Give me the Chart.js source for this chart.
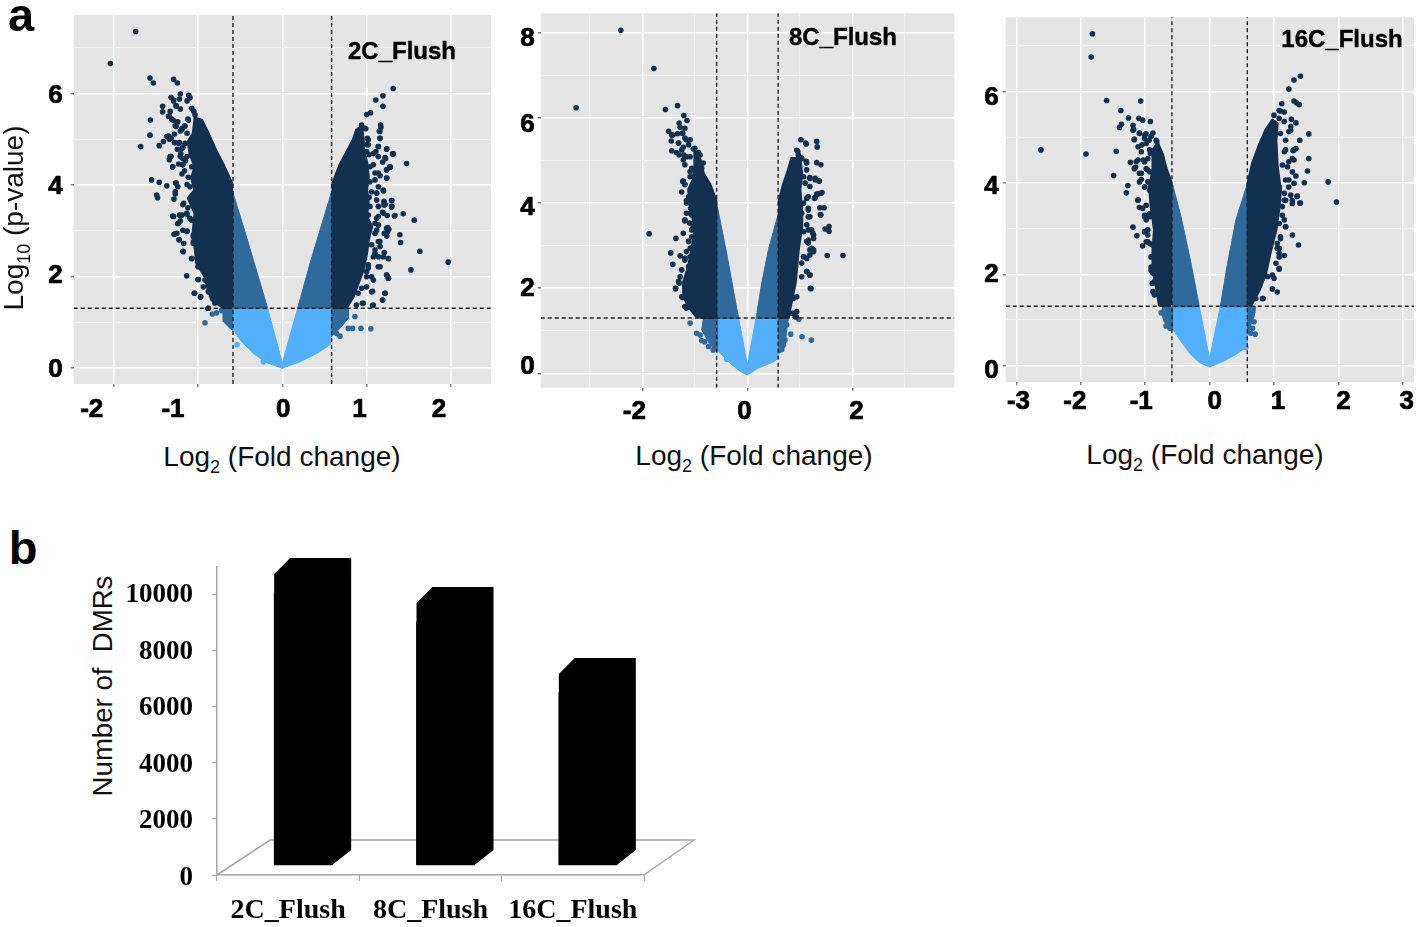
<!DOCTYPE html>
<html>
<head>
<meta charset="utf-8">
<title>DMR volcano plots</title>
<script src="https://cdn.jsdelivr.net/npm/chart.js@4"></script>
<style>
  html, body { margin: 0; background: #fff; overflow: hidden; }
  body { position: relative; width: 1418px; height: 927px; font-family: "Liberation Sans", Arial, sans-serif; color: #000; }
  canvas { position: absolute; z-index: 1; }
  .txt { position: absolute; z-index: 2; transform: translate(-50%, -50%); white-space: nowrap; line-height: 1; }
  .title { font-size: 28px; color: #111; }
  .title sub { font-size: 18px; line-height: 0; }
  .rot { transform: translate(-50%, -50%) rotate(-90deg); }
  .tag { font-size: 24px; font-weight: bold; -webkit-text-stroke: 0.4px #000; }
  .letter { font-size: 47px; font-weight: bold; }
</style>
</head>
<body>
<div class="txt letter" style="left:21px;top:14px">a</div>
<div class="txt letter" style="left:23px;top:547px">b</div>
<div class="txt title rot" style="left:14px;top:218px">Log<sub>10</sub> (p-value)</div>
<div class="txt title" style="left:282px;top:457px">Log<sub>2</sub> (Fold change)</div>
<div class="txt title" style="left:754px;top:456px">Log<sub>2</sub> (Fold change)</div>
<div class="txt title" style="left:1205px;top:455px">Log<sub>2</sub> (Fold change)</div>
<div class="txt title rot" style="left:103px;top:686px;font-size:27.6px">Number of&nbsp; DMRs</div>
<div class="txt tag" style="left:402px;top:51px">2C_Flush</div>
<div class="txt tag" style="left:843px;top:37px">8C_Flush</div>
<div class="txt tag" style="left:1342px;top:39px">16C_Flush</div>
<canvas id="volcano2C" width="470" height="425" style="left:30px;top:5px"></canvas>
<canvas id="volcano8C" width="450" height="425" style="left:510px;top:3px"></canvas>
<canvas id="volcano16C" width="448" height="425" style="left:970px;top:7px"></canvas>
<canvas id="barDMR" width="590" height="382" style="left:120px;top:545px"></canvas>
<script>
// Data: thresholds
const foldCut = [-0.585, 0.585];
const pCut = 1.3;

// Data: 2C_Flush
const ticksX2C = [-2, -1, 0, 1, 2];
const ticksY2C = [0, 1, 2, 3, 4, 5, 6, 7];
const coreLeft2C = [[-.60,1.32],[-.60,4.04],[-.70,4.44],[-.80,4.80],[-.897,5.20],[-.957,5.42],[-1.036,5.46],[-1.056,5.13],[-1.115,4.95],[-1.095,4.69],[-1.036,4.40],[-1.076,4.15],[-1.036,3.89],[-1.115,3.71],[-1.036,3.38],[-1.056,3.01],[-1.036,2.65],[-1.016,2.29],[-.917,1.99],[-.877,1.70],[-.837,1.48],[-.70,1.32],[-.60,1.32]];
const coreRight2C = [[.60,1.32],[.60,4.04],[.684,4.44],[.80,4.84],[.842,4.99],[.88,5.20],[.94,5.28],[.96,4.99],[.96,4.80],[1.0,4.51],[1.02,4.18],[1.0,3.89],[1.02,3.67],[1.0,3.31],[1.06,3.09],[1.02,2.80],[1.0,2.50],[.96,2.14],[.90,1.85],[.84,1.55],[.76,1.32],[.60,1.32]];
const midLeft2C = [[-.589,3.85],[-.462,3.09],[-.344,2.36],[-.174,1.30],[-.589,1.30],[-.589,3.85]];
const midRight2C = [[.585,3.85],[.447,3.01],[.328,2.28],[.182,1.30],[.585,1.30],[.585,3.85]];
const midLowLeft2C = [[-.589,1.30],[-.70,1.30],[-.70,1.01],[-.62,.86],[-.589,.82],[-.589,1.30]];
const midLowRight2C = [[.585,1.30],[.783,1.30],[.783,1.08],[.684,.86],[.605,.72],[.585,.68],[.585,1.30]];
const lightLeft2C = [[-.174,1.30],[0,.1],[0,-.01],[-.186,.11],[-.344,.31],[-.502,.61],[-.589,.86],[-.589,1.30],[-.174,1.30]];
const lightRight2C = [[.182,1.30],[0,.1],[0,-.01],[.209,.13],[.407,.31],[.565,.50],[.585,.68],[.585,1.30],[.182,1.30]];
const darkDots2C = [[-1.74,7.36],[-2.04,6.66],[-1.57,6.34],[-1.53,6.23],[-1.29,6.31],[-1.245,6.23],[-1.32,5.92],[-1.21,5.99],[-1.11,5.96],[-1.095,5.91],[-1.29,5.86],[-1.42,5.72],[-1.42,5.60],[-1.33,5.61],[-1.26,5.73],[-1.21,5.66],[-1.075,5.68],[-1.05,5.61],[-1.565,5.42],[-1.35,5.50],[-1.29,5.41],[-1.26,5.28],[-1.19,5.24],[-1.155,5.29],[-1.115,5.42],[-1.57,5.09],[-1.37,5.06],[-1.34,5.0],[-1.41,4.95],[-1.46,4.86],[-1.68,4.84],[-1.27,4.93],[-1.23,4.91],[-1.19,4.80],[-1.155,4.91],[-1.21,4.62],[-1.33,4.62],[-1.30,4.40],[-1.185,4.44],[-1.13,4.62],[-1.075,4.40],[-1.55,4.11],[-1.46,4.06],[-1.37,3.98],[-1.49,3.78],[-1.48,3.72],[-1.265,4.04],[-1.27,3.85],[-1.285,3.69],[-1.17,3.60],[-1.135,3.38],[-1.29,3.31],[-1.21,3.32],[-1.235,3.16],[-1.075,3.23],[-1.18,3.01],[-1.285,2.92],[-1.135,2.98],[-1.225,2.80],[-1.055,2.87],[-1.055,2.76],[-1.175,2.54],[-1.075,2.39],[-.995,2.28],[-1.135,2.01],[-.995,1.93],[-1.045,1.63],[-.97,1.55],[-.877,1.30],[-.937,1.77],
  [1.316,6.11],[1.194,5.95],[1.11,5.86],[1.194,5.72],[1.0,5.54],[1.047,5.58],[.94,5.31],[.98,5.24],[.90,5.17],[.88,5.06],[1.166,5.31],[1.17,5.26],[1.158,5.17],[1.158,5.02],[1.02,4.99],[1.0,4.88],[1.138,4.84],[1.237,4.78],[1.316,4.68],[1.474,4.47],[1.225,4.58],[1.277,4.40],[1.237,4.33],[1.237,4.15],[1.138,4.26],[1.08,4.69],[1.04,4.40],[1.10,4.11],[1.198,3.89],[1.296,3.66],[1.206,3.64],[1.206,3.56],[1.296,3.53],[1.435,3.37],[1.336,3.33],[1.198,3.38],[1.565,3.23],[1.119,3.27],[1.237,3.05],[1.25,2.98],[1.395,2.91],[1.403,2.74],[1.158,2.76],[1.198,2.43],[1.257,2.39],[1.632,2.55],[1.968,2.31],[1.526,2.14],[1.237,2.03],[1.257,1.96],[1.138,2.21],[1.02,2.18],[1.217,1.63],[1.19,1.48],[1.079,1.37],[.96,1.41],[1.06,1.66],[1.10,2.58],[1.119,3.01],[1.08,2.43],[1.0,1.99],[.90,1.63],[1.119,3.67]];
const bandDots2C = [[-1.22,5.88],[-1.29,5.84],[-1.13,5.84],[-1.26,5.74],[-1.035,5.53],[-1.34,5.51],[-1.31,5.44],[-1.24,5.38],[-1.12,5.44],[-1.27,5.30],[-1.16,5.29],[-1.19,5.22],[-1.21,5.18],[-1.35,5.07],[-1.32,5.02],[-1.28,5.11],[-1.13,5.13],[-1.28,4.93],[-1.22,4.93],[-1.245,4.78],[-1.18,4.82],[-1.205,4.69],[-1.32,4.62],[-1.34,4.55],[-1.18,4.58],[-1.15,4.53],[-1.30,4.40],[-1.23,4.46],[-1.18,4.44],[-1.16,4.31],[-1.19,4.24],[-1.115,4.17],[-1.26,4.04],[-1.24,3.96],[-1.13,4.01],[-1.095,3.96],[-1.27,3.80],[-1.18,3.57],[-1.12,3.50],[-1.30,3.32],[-1.22,3.34],[-1.19,3.34],[-1.13,3.36],[-1.21,3.21],[-1.24,3.15],[-1.095,3.27],[-1.13,2.99],[-1.27,2.93],[-1.25,2.94],[-1.055,2.91],[-1.225,2.80],[-1.17,2.72],[-1.055,2.72],[-1.18,2.55],[-1.075,2.39],[-.976,2.28],[-1.0,2.21],[-.937,2.21],[-1.0,1.93],[-.917,1.92],[-1.04,1.63],[-.97,1.55],[-.877,1.66],[-.88,1.30],[-.80,1.41],
  [.99,5.23],[1.15,5.18],[1.01,5.02],[1.16,5.02],[1.02,4.88],[1.14,4.84],[1.24,4.79],[1.0,4.73],[1.11,4.73],[1.31,4.68],[1.22,4.60],[1.03,4.66],[1.14,4.62],[1.19,4.50],[1.28,4.39],[1.08,4.44],[1.24,4.33],[1.10,4.26],[1.16,4.20],[1.24,4.15],[1.04,4.07],[1.14,3.96],[1.20,3.87],[1.06,3.85],[1.12,3.82],[1.03,3.73],[1.30,3.66],[1.21,3.61],[1.22,3.57],[1.30,3.52],[1.04,3.53],[1.14,3.53],[1.19,3.40],[1.245,3.33],[1.33,3.32],[1.02,3.34],[1.14,3.31],[1.10,3.16],[1.14,3.12],[1.25,3.07],[1.265,3.03],[1.21,2.94],[1.24,2.88],[1.10,2.94],[1.14,2.76],[1.06,2.69],[1.16,2.65],[1.10,2.50],[1.21,2.52],[1.14,2.43],[1.26,2.39],[1.02,2.25],[1.16,2.21],[1.24,2.03],[1.26,1.96],[1.06,1.99],[1.08,1.92],[1.0,2.10],[1.07,1.67],[1.22,1.63],[1.19,1.48],[.94,1.74],[1.0,1.77],[.95,1.41],[1.07,1.36],[.88,1.37]];
const midDots2C = [[-.917,.985],[-.83,1.175],[-.78,1.20],[-.72,1.25],[.783,.86],[.834,.86],[.933,.86],[1.05,.85],[.862,1.12],[.684,.69],[.644,.75]];
const lightDots2C = [[-.537,.50],[-.225,.13]];

// Data: 8C_Flush
const ticksX8C = [-3, -2, -1, 0, 1, 2, 3];
const ticksY8C = [0, 1, 2, 3, 4, 5, 6, 7, 8];
const coreLeft8C = [[-.60,1.31],[-.60,4.07],[-.71,4.43],[-.84,4.70],[-.90,5.02],[-1.0,5.21],[-1.0,4.86],[-1.03,4.55],[-1.12,4.31],[-1.06,3.84],[-1.0,3.37],[-1.06,2.90],[-1.12,2.51],[-1.22,2.12],[-1.21,1.80],[-1.12,1.57],[-.965,1.33],[-.86,1.31],[-.60,1.31]];
const coreRight8C = [[.61,1.31],[.61,4.07],[.686,4.43],[.78,4.78],[.844,5.05],[1.0,5.05],[1.035,4.70],[1.0,4.31],[1.035,3.84],[1.035,3.45],[.97,2.90],[.94,2.51],[.91,2.12],[.844,1.72],[.78,1.33],[.76,1.31],[.61,1.31]];
const midLeft8C = [[-.571,3.92],[-.394,2.82],[-.267,1.96],[-.165,1.29],[-.571,1.29],[-.571,3.92]];
const midRight8C = [[.590,3.76],[.40,2.90],[.273,2.12],[.165,1.29],[.590,1.29],[.590,3.76]];
const midLowLeft8C = [[-.571,1.29],[-.838,1.29],[-.870,1.02],[-.743,.74],[-.648,.59],[-.571,.51],[-.571,1.29]];
const midLowRight8C = [[.59,1.29],[.781,1.29],[.749,1.02],[.717,.63],[.654,.51],[.59,.47],[.59,1.29]];
const lightLeft8C = [[-.165,1.29],[0,.2],[0,-.04],[-.159,.06],[-.394,.31],[-.571,.55],[-.571,1.29],[-.165,1.29]];
const lightRight8C = [[.165,1.29],[0,.2],[0,-.04],[.2,.12],[.5,.27],[.59,.35],[.59,1.29],[.165,1.29]];
const darkDots8C = [[-2.41,8.06],[-1.78,7.16],[-3.26,6.24],[-1.56,6.20],[-1.33,6.29],[-1.21,6.06],[-1.15,5.94],[-1.30,5.88],[-1.28,5.78],[-1.50,5.69],[-1.42,5.60],[-1.24,5.64],[-1.45,5.46],[-1.44,5.23],[-1.35,5.19],[-1.25,5.25],[-1.31,5.41],[-1.16,5.49],[-1.12,5.37],[-1.0,5.29],[-.90,5.13],[-1.16,5.09],[-1.22,5.02],[-1.06,4.82],[-.84,4.94],[-1.23,4.51],[-1.19,4.43],[-1.09,4.62],[-1.25,4.26],[-1.12,4.15],[-1.16,4.0],[-1.06,3.84],[-1.19,3.61],[-1.09,3.76],[-1.87,3.28],[-1.36,3.17],[-1.22,3.29],[-1.12,3.10],[-1.06,3.37],[-1.46,2.83],[-1.28,2.76],[-1.09,2.94],[-1.19,2.66],[-1.42,2.56],[-1.25,2.43],[-1.09,2.51],[-1.28,2.27],[-1.365,1.99],[-1.30,2.12],[-1.25,1.80],[-1.16,1.53],
  [1.02,5.49],[1.12,5.39],[1.32,5.45],[1.33,5.32],[.96,5.21],[1.03,5.05],[1.32,4.95],[1.40,4.90],[1.13,4.94],[1.19,4.58],[1.365,4.52],[1.29,4.58],[1.19,4.39],[1.42,4.25],[1.35,4.22],[1.29,4.13],[1.16,4.15],[1.38,3.89],[1.46,3.89],[1.40,3.72],[1.16,3.88],[1.19,3.68],[1.48,3.39],[1.555,3.45],[1.555,3.34],[1.16,3.37],[1.245,3.29],[1.26,3.17],[1.16,3.13],[1.225,2.94],[1.26,2.86],[1.52,2.77],[1.82,2.77],[1.19,2.78],[1.07,2.74],[1.035,2.59],[1.13,2.39],[1.19,2.31],[1.035,2.27],[1.21,1.99],[.94,1.80],[.876,1.41],[.93,1.33]];
const bandDots8C = [[-1.19,5.76],[-1.44,5.60],[-1.33,5.63],[-1.23,5.64],[-1.19,5.53],[-1.09,5.49],[-1.31,5.41],[-1.22,5.31],[-1.30,5.13],[-1.03,5.27],[-.93,5.19],[-1.21,5.13],[-1.09,5.09],[-1.19,4.90],[-.87,4.82],[-1.09,4.74],[-1.03,4.62],[-1.22,4.52],[-1.19,4.45],[-1.03,4.43],[-1.06,4.27],[-1.16,4.06],[-1.09,4.0],[-1.0,4.08],[-1.08,3.88],[-1.16,3.76],[-1.06,3.72],[-1.19,3.58],[-1.10,3.53],[-1.03,3.45],[-1.06,3.21],[-1.16,2.86],[-1.19,2.70],[-1.09,2.74],[-1.03,2.98],[-1.12,2.51],[-1.31,2.16],[-1.23,1.78],[-1.37,2.0],[-1.19,1.57],
  [1.11,5.41],[.94,5.24],[.97,5.13],[1.035,5.05],[1.12,4.98],[1.13,4.78],[1.07,4.62],[1.19,4.60],[1.29,4.55],[1.37,4.52],[1.10,4.47],[1.40,4.23],[1.32,4.21],[1.28,4.11],[1.13,4.11],[1.07,4.0],[1.16,3.84],[1.39,3.73],[1.035,3.76],[1.16,3.68],[1.13,3.49],[1.225,3.37],[1.26,3.25],[1.07,3.33],[1.13,3.10],[1.16,3.06],[1.19,2.90],[1.26,2.90],[1.07,2.74],[1.13,2.70],[1.13,2.39],[1.19,2.31],[1.20,2.0],[.876,1.76],[.94,1.45],[.91,1.33],[.844,1.41]];
const midDots8C = [[-1.09,1.18],[-.965,.94],[-.90,.90],[-.87,.77],[-.81,.74],[-.74,.63],[-.65,.55],[.98,1.27],[.825,.92],[1.04,.86],[1.22,.78],[.75,1.14],[.686,.67],[.717,.78],[.654,.56]];
const lightDots8C = [[-.394,.33]];

// Data: 16C_Flush
const ticksX16C = [-3, -2, -1, 0, 1, 2, 3];
const ticksY16C = [0, 1, 2, 3, 4, 5, 6, 7];
const coreLeft16C = [[-.60,1.32],[-.60,4.02],[-.676,4.31],[-.73,4.61],[-.805,4.86],[-.88,4.72],[-.88,4.28],[-.934,3.91],[-.908,3.48],[-.857,2.97],[-.88,2.53],[-.88,2.09],[-.83,1.73],[-.78,1.32],[-.60,1.32]];
const coreRight16C = [[.60,1.32],[.60,4.02],[.666,4.42],[.77,4.82],[.87,5.15],[.975,5.37],[1.05,5.30],[1.03,4.93],[1.05,4.35],[1.10,3.84],[1.08,3.48],[1.03,2.97],[.95,2.53],[.87,2.02],[.77,1.65],[.64,1.32],[.60,1.32]];
const midLeft16C = [[-.573,3.95],[-.444,3.26],[-.289,2.24],[-.16,1.29],[-.573,1.29],[-.573,3.95]];
const midRight16C = [[.588,3.99],[.408,3.19],[.279,2.24],[.165,1.29],[.588,1.29],[.588,3.99]];
const midLowLeft16C = [[-.573,1.29],[-.728,1.29],[-.753,1.15],[-.70,.96],[-.624,.82],[-.573,.78],[-.573,1.29]];
const midLowRight16C = [[.588,1.29],[.717,1.29],[.691,1.07],[.64,.89],[.614,.71],[.588,.7],[.588,1.29]];
const lightLeft16C = [[-.16,1.29],[0,.15],[0,-.03],[-.16,.07],[-.31,.27],[-.46,.56],[-.573,.8],[-.573,1.29],[-.16,1.29]];
const lightRight16C = [[.165,1.29],[0,.15],[0,-.03],[.22,.1],[.41,.25],[.55,.38],[.588,.4],[.588,1.29],[.165,1.29]];
const darkDots16C = [[-1.82,7.26],[-1.84,6.75],[-2.62,4.72],[-1.92,4.63],[-1.60,5.80],[-1.38,5.58],[-1.07,5.79],[-1.26,5.42],[-1.10,5.41],[-1.04,5.37],[-.92,5.34],[-1.19,5.26],[-1.37,5.28],[-1.40,5.21],[-1.19,5.15],[-1.09,5.08],[-1.17,4.95],[-1.01,5.04],[-.91,5.02],[-.83,4.93],[-1.11,4.79],[-1.45,4.69],[-.985,4.86],[-.93,4.72],[-1.23,4.45],[-1.14,4.46],[-1.03,4.50],[-1.17,4.31],[-1.49,4.16],[-1.06,4.21],[-.96,4.28],[-1.09,4.02],[-1.27,3.94],[-1.295,3.78],[-1.01,3.91],[-1.115,3.62],[-1.09,3.46],[-1.04,3.44],[-1.01,3.26],[-.93,3.33],[-1.19,3.03],[-1.01,2.93],[-1.13,2.84],[-.96,2.86],[-1.04,2.62],[-.89,2.64],[-.96,2.71],[-.91,2.16],[-.89,1.80],[-.88,1.62],[-.857,1.55],[-.88,2.02],
  [1.41,6.33],[1.31,6.25],[1.23,6.05],[1.12,5.73],[1.31,5.79],[1.35,5.75],[1.39,5.71],[1.10,5.57],[1.16,5.55],[1.27,5.39],[1.34,5.31],[1.54,5.07],[1.26,5.15],[1.40,4.93],[1.34,4.75],[1.31,4.72],[1.54,4.53],[1.18,4.72],[1.285,4.53],[1.31,4.50],[1.21,4.35],[1.52,4.26],[1.285,4.24],[1.47,4.0],[1.84,4.02],[1.23,4.06],[1.31,3.99],[1.36,3.71],[1.26,3.73],[1.40,3.56],[1.285,3.62],[1.97,3.58],[1.16,3.62],[1.13,3.48],[1.18,3.04],[1.285,2.86],[1.38,2.64],[1.16,2.41],[1.08,2.38],[1.05,2.57],[1.10,2.78],[1.08,2.13],[1.0,1.91],[.975,1.68],[1.05,1.61],[.82,1.47],[.717,1.47]];
const bandDots16C = [[-1.09,5.09],[-.99,5.07],[-.88,5.09],[-1.18,5.17],[-1.17,4.95],[-1.01,4.97],[-.94,4.93],[-.82,4.90],[-1.05,4.83],[-1.06,4.68],[-.92,4.64],[-.96,4.53],[-1.11,4.50],[-1.01,4.46],[-1.15,4.34],[-.985,4.31],[-1.09,4.21],[-.93,4.24],[-1.06,4.07],[-.96,4.02],[-1.01,3.91],[-.93,3.84],[-1.11,3.63],[-.985,3.51],[-1.01,3.29],[-.985,3.19],[-.93,3.26],[-.96,2.97],[-1.01,2.93],[-.985,2.71],[-.93,2.67],[-.91,2.38],[-.91,2.09],[-.857,1.84],
  [1.0,5.48],[1.08,5.58],[1.08,5.41],[1.16,5.34],[1.26,5.23],[1.23,5.12],[1.10,5.08],[1.18,4.93],[1.16,4.68],[1.295,4.70],[1.23,4.46],[1.13,4.39],[1.34,4.15],[1.18,4.06],[1.08,3.91],[1.23,3.91],[1.16,3.77],[1.36,3.70],[1.18,3.62],[1.41,3.56],[1.285,3.55],[1.13,3.29],[1.16,3.19],[1.18,3.04],[1.08,3.11],[1.10,2.82],[1.05,2.67],[1.08,2.57],[1.08,2.46],[1.03,2.24],[1.08,2.11],[.975,1.98],[.90,1.95],[.83,1.47]];
const midDots16C = [[-.753,1.16],[-.676,1.0],[-.676,.87],[-.614,.82],[.69,.96],[.666,.82],[.707,.69],[.64,.71],[.666,1.18]];
const lightDots16C = [[.562,.40]];

// Data: number of DMRs
const stages = ['2C_Flush', '8C_Flush', '16C_Flush'];
const dmrCounts = [10040, 9000, 6480];
const dmrTicks = [0, 2000, 4000, 6000, 8000, 10000];

const COLORS = { dark: '#12304f', mid: '#2f6a9c', light: '#52affc', panel: '#e5e5e5', major: '#ffffff', minor: '#f0f0f0', tick: '#7f7f7f', dash: '#222222', floor: '#a6a6a6' };
const TICK_FONT = { family: '"Liberation Sans", Arial, sans-serif', size: 26, weight: 'bold' };

const toPoints = pairs => pairs.map(([x, y]) => ({ x, y }));

function polygon(pairs, color, border) {
    return { data: toPoints(pairs), showLine: true, fill: 'shape', backgroundColor: color, borderColor: color, borderWidth: border || 1, borderJoinStyle: 'round', pointRadius: 0, tension: 0 };
}

function dots(pairs, color) {
    return { data: toPoints(pairs), showLine: false, backgroundColor: color, borderColor: color, borderWidth: 0, pointRadius: 2.8 };
}

function dashed(pairs) {
    return { data: toPoints(pairs), showLine: true, fill: false, borderColor: COLORS.dash, borderWidth: 1.4, borderDash: [4, 3], pointRadius: 0 };
}

// Shifts tick labels after the scale has laid them out, the figure has them hand placed
const labelNudge = {
    id: 'labelNudge',
    afterLayout(chart, args, opts) {
        for (const axis of ['x', 'y']) {
            const shift = opts[axis] || {};
            chart.scales[axis].getLabelItems(chart.chartArea).forEach(item => {
                const d = shift[item.label];
                if (d) {
                    item.options.translation[0] += d[0];
                    item.options.translation[1] += d[1];
                }
            });
        }
    }
};

const panelBackground = {
    id: 'panelBackground',
    beforeDraw(chart) {
        const { ctx, chartArea: a } = chart;
        ctx.save();
        ctx.fillStyle = COLORS.panel;
        ctx.fillRect(a.left, a.top, a.width, a.height);
        ctx.restore();
    }
};

function volcano(id, cfg) {
    const layers = [
        dashed([[foldCut[0], cfg.yRange[0]], [foldCut[0], cfg.yRange[1]]]),
        dashed([[foldCut[1], cfg.yRange[0]], [foldCut[1], cfg.yRange[1]]]),
        dashed([[cfg.xRange[0], pCut], [cfg.xRange[1], pCut]]),
        dots(cfg.darkDots, COLORS.dark),
        dots(cfg.bandDots, COLORS.dark),
        dots(cfg.midDots, COLORS.mid),
        dots(cfg.lightDots, COLORS.light),
        polygon(cfg.coreLeft, COLORS.dark, 3),
        polygon(cfg.coreRight, COLORS.dark, 3),
        polygon(cfg.midLeft, COLORS.mid),
        polygon(cfg.midRight, COLORS.mid),
        polygon(cfg.midLowLeft, COLORS.mid),
        polygon(cfg.midLowRight, COLORS.mid),
        polygon(cfg.lightLeft, COLORS.light),
        polygon(cfg.lightRight, COLORS.light)
    ];
    const isMajor = (v, labels) => labels.includes(v);
    return new Chart(document.getElementById(id), {
        type: 'scatter',
        data: { datasets: layers },
        options: {
            responsive: false,
            animation: false,
            layout: { padding: cfg.padding },
            plugins: { legend: { display: false }, tooltip: { enabled: false }, labelNudge: { x: cfg.nudgeX, y: cfg.nudgeY } },
            scales: {
                x: {
                    type: 'linear', min: cfg.xRange[0], max: cfg.xRange[1],
                    afterBuildTicks: s => { s.ticks = cfg.ticksX.map(value => ({ value })); },
                    afterFit: s => { s.height = cfg.axisH; s.paddingLeft = 0; s.paddingRight = 0; },
                    border: { display: false },
                    grid: {
                        color: c => isMajor(c.tick.value, cfg.labelsX) ? COLORS.major : COLORS.minor,
                        lineWidth: c => isMajor(c.tick.value, cfg.labelsX) ? 1.5 : 1,
                        tickColor: c => isMajor(c.tick.value, cfg.labelsX) ? COLORS.tick : 'rgba(0,0,0,0)',
                        tickLength: 3
                    },
                    ticks: { autoSkip: false, maxRotation: 0, padding: 8, color: '#000', font: TICK_FONT, textStrokeColor: '#000', textStrokeWidth: 0.7, callback: v => isMajor(v, cfg.labelsX) ? String(v) : '' }
                },
                y: {
                    type: 'linear', min: cfg.yRange[0], max: cfg.yRange[1],
                    afterBuildTicks: s => { s.ticks = cfg.ticksY.map(value => ({ value })); },
                    afterFit: s => { s.width = cfg.axisW; s.paddingTop = 0; s.paddingBottom = 0; },
                    border: { display: false },
                    grid: {
                        color: c => isMajor(c.tick.value, cfg.labelsY) ? COLORS.major : COLORS.minor,
                        lineWidth: c => isMajor(c.tick.value, cfg.labelsY) ? 1.5 : 1,
                        tickColor: c => isMajor(c.tick.value, cfg.labelsY) ? COLORS.tick : 'rgba(0,0,0,0)',
                        tickLength: 3
                    },
                    ticks: { autoSkip: false, padding: cfg.padY, color: '#000', font: TICK_FONT, textStrokeColor: '#000', textStrokeWidth: 0.7, callback: v => isMajor(v, cfg.labelsY) ? String(v) : '' }
                }
            }
        },
        plugins: [panelBackground, labelNudge]
    });
}

// Pseudo 3D depth of the bars, in pixels
const BAR_SHIFT = 15, TOP_FRONT = 19, TOP_BACK = 35, SIDE = 19, SLOPE = 16, FOOT = 15;

const bar3d = {
    id: 'bar3d',
    afterDatasetsUpdate(chart) {
        chart.getDatasetMeta(0).data.forEach(b => { b.x += BAR_SHIFT; });
    },
    beforeDatasetsDraw(chart) {
        const { ctx, scales: { x, y } } = chart;
        const y0 = y.getPixelForValue(0);
        ctx.save();
        ctx.strokeStyle = COLORS.floor;
        ctx.lineWidth = 1.5;
        ctx.beginPath();
        ctx.moveTo(x.left, y0);
        ctx.lineTo(x.left + 53, y0 - TOP_BACK);
        ctx.lineTo(x.right + 50, y0 - TOP_BACK);
        ctx.lineTo(x.right, y0);
        ctx.stroke();
        ctx.restore();
    },
    afterDatasetsDraw(chart) {
        const { ctx } = chart;
        ctx.save();
        ctx.fillStyle = '#000';
        chart.getDatasetMeta(0).data.forEach(b => {
            const l = b.x - b.width / 2, r = b.x + b.width / 2;
            ctx.beginPath();
            ctx.moveTo(l, b.y - TOP_FRONT);
            ctx.lineTo(l + SLOPE, b.y - TOP_BACK);
            ctx.lineTo(r + SIDE, b.y - TOP_BACK);
            ctx.lineTo(r + SIDE, b.base - FOOT);
            ctx.lineTo(r, b.base);
            ctx.lineTo(l, b.base);
            ctx.closePath();
            ctx.fill();
        });
        ctx.restore();
    }
};

function barChart() {
    const serif = size => ({ family: '"Liberation Serif", "Times New Roman", serif', size, weight: 'bold' });
    return new Chart(document.getElementById('barDMR'), {
        type: 'bar',
        data: { labels: stages, datasets: [{ data: dmrCounts, base: 355, backgroundColor: '#000', barThickness: 58 }] },
        options: {
            responsive: false,
            animation: false,
            layout: { padding: { top: 22, right: 66, left: 0, bottom: 0 } },
            plugins: {
                legend: { display: false }, tooltip: { enabled: false },
                labelNudge: { y: { '0': [0, 3], '2000': [0, 2], '4000': [0, 2], '6000': [0, 2], '8000': [0, 2], '10000': [0, 1] } }
            },
            scales: {
                x: {
                    afterFit: s => { s.height = 52; s.paddingLeft = 0; s.paddingRight = 0; },
                    border: { color: COLORS.floor, width: 1.5 },
                    grid: { offset: true, drawOnChartArea: false, color: COLORS.floor, tickLength: 6 },
                    ticks: { autoSkip: false, maxRotation: 0, padding: 13, color: '#000', font: serif(28) }
                },
                y: {
                    min: 0, max: 10961,
                    afterBuildTicks: s => { s.ticks = dmrTicks.map(value => ({ value })); },
                    afterFit: s => { s.width = 97; s.paddingTop = 0; s.paddingBottom = 0; },
                    border: { color: COLORS.floor, width: 1.5 },
                    grid: { drawOnChartArea: false, color: COLORS.floor, tickLength: 5 },
                    ticks: { autoSkip: false, padding: 19, color: '#000', font: serif(27), callback: v => String(v) }
                }
            }
        },
        plugins: [bar3d, labelNudge]
    });
}

volcano('volcano2C', {
    xRange: [-2.475, 2.476], yRange: [-0.357, 7.72], padding: { top: 10, right: 9, left: 0, bottom: 0 }, axisW: 43.7, axisH: 46, padY: 8,
    ticksX: ticksX2C, ticksY: ticksY2C, labelsX: [-2, -1, 0, 1, 2], labelsY: [0, 2, 4, 6],
    nudgeX: { '-2': [-22, -1], '-1': [-25, -1], '0': [1, -1], '1': [-7, -1], '2': [-12, -1] },
    nudgeY: { '6': [0, 2], '4': [0, 2], '2': [0, 0], '0': [0, 2] },
    coreLeft: coreLeft2C, coreRight: coreRight2C, midLeft: midLeft2C, midRight: midRight2C, midLowLeft: midLowLeft2C, midLowRight: midLowRight2C,
    lightLeft: lightLeft2C, lightRight: lightRight2C, darkDots: darkDots2C, bandDots: bandDots2C, midDots: midDots2C, lightDots: lightDots2C
});
volcano('volcano8C', {
    xRange: [-3.935, 3.94], yRange: [-0.338, 8.46], padding: { top: 10.3, right: 5.7, left: 0, bottom: 0 }, axisW: 30.7, axisH: 40.3, padY: 3,
    ticksX: ticksX8C, ticksY: ticksY8C, labelsX: [-2, 0, 2], labelsY: [0, 2, 4, 6, 8],
    nudgeX: { '-2': [-8, -2], '0': [-3, -2], '2': [4, -2] },
    nudgeY: { '8': [0, 6], '6': [0, 7], '4': [0, 5], '2': [0, 1], '0': [0, -6] },
    coreLeft: coreLeft8C, coreRight: coreRight8C, midLeft: midLeft8C, midRight: midRight8C, midLowLeft: midLowLeft8C, midLowRight: midLowRight8C,
    lightLeft: lightLeft8C, lightRight: lightRight8C, darkDots: darkDots8C, bandDots: bandDots8C, midDots: midDots8C, lightDots: lightDots8C
});
volcano('volcano16C', {
    xRange: [-3.167, 3.174], yRange: [-0.363, 7.62], padding: { top: 10.3, right: 2.7, left: 0, bottom: 0 }, axisW: 35.7, axisH: 49.7, padY: 4,
    ticksX: ticksX16C, ticksY: ticksY16C, labelsX: [-3, -2, -1, 0, 1, 2, 3], labelsY: [0, 2, 4, 6],
    nudgeX: { '-3': [2, -7], '-2': [-6, -7], '-1': [-4, -7], '0': [5, -7], '1': [4, -7], '2': [5, -7], '3': [4, -7] },
    nudgeY: { '6': [0, 6], '4': [0, 4], '2': [0, 1], '0': [0, 5] },
    coreLeft: coreLeft16C, coreRight: coreRight16C, midLeft: midLeft16C, midRight: midRight16C, midLowLeft: midLowLeft16C, midLowRight: midLowRight16C,
    lightLeft: lightLeft16C, lightRight: lightRight16C, darkDots: darkDots16C, bandDots: bandDots16C, midDots: midDots16C, lightDots: lightDots16C
});
barChart();
</script>
</body>
</html>
